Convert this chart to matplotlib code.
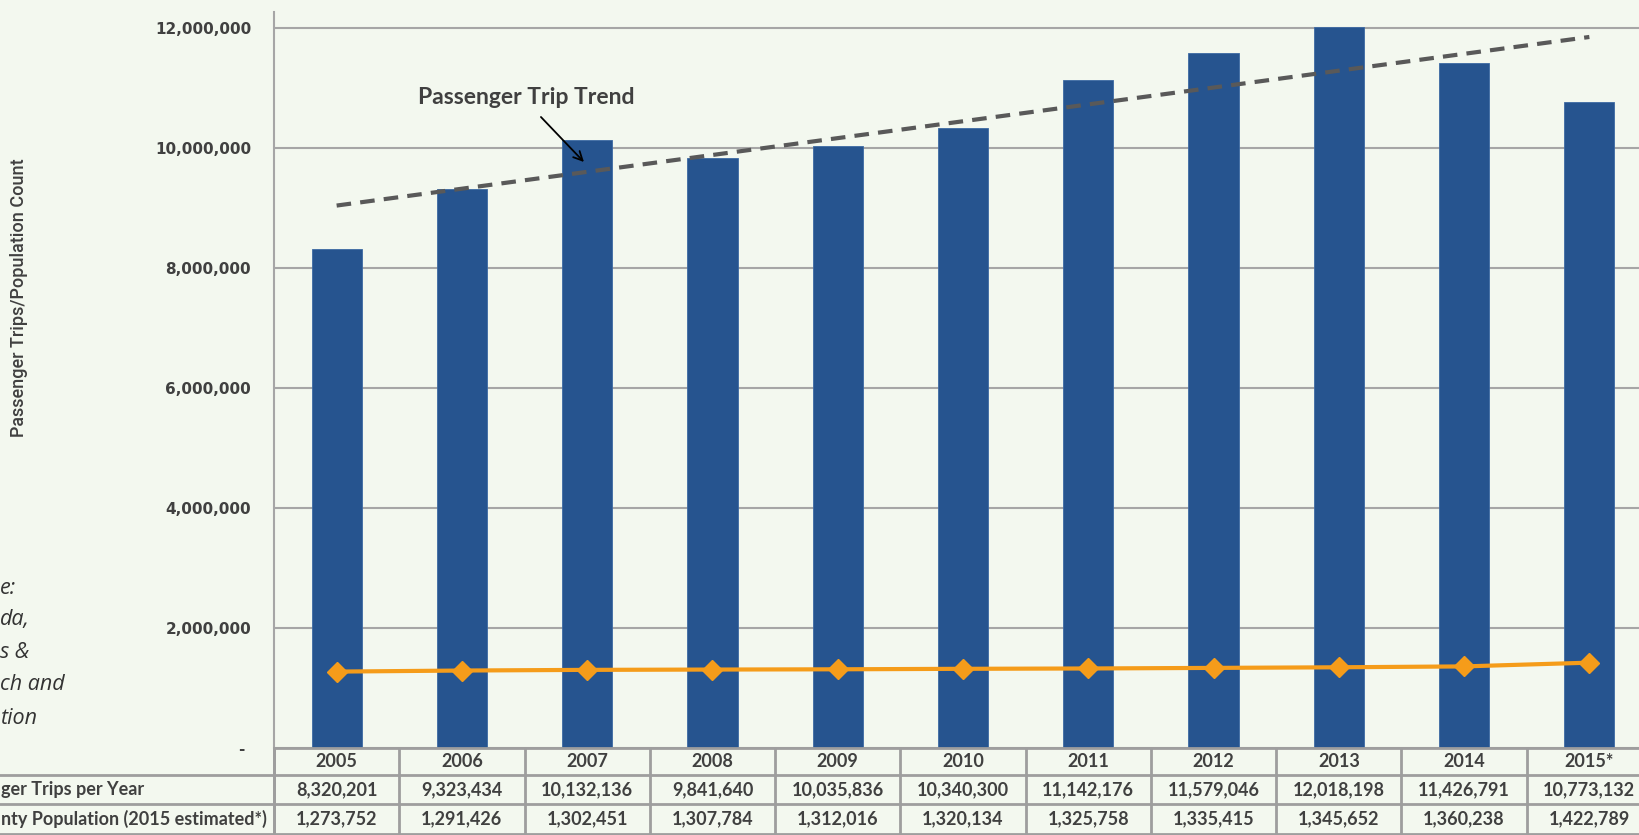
import numpy as np
import matplotlib.pyplot as plt
from matplotlib.lines import Line2D
from matplotlib.transforms import blended_transform_factory

years = ['2005', '2006', '2007', '2008', '2009', '2010', '2011', '2012', '2013', '2014', '2015*']
trips = [8320201, 9323434, 10132136, 9841640, 10035836, 10340300,
         11142176, 11579046, 12018198, 11426791, 10773132]
population = [1273752, 1291426, 1302451, 1307784, 1312016, 1320134,
              1325758, 1335415, 1345652, 1360238, 1422789]
row_labels = ['ger Trips per Year', 'nty Population (2015 estimated*)']
note_lines = ['e:', 'da,', 's &', 'ch and', 'tion']

W, H = 1640, 835
bg = '#f3f8ef'
txt = '#404040'
grid_c = '#a6a6a6'
bar_c = '#26548f'
line_c = '#f59c1a'

fig = plt.figure(figsize=(W / 100, H / 100), dpi=100, facecolor=bg)

def fx(px):
    return px / W

def fy(py):
    return 1 - py / H

# axes: left edge 274px, right edge beyond figure, top 12px, bottom 748px
ax = fig.add_axes([fx(274), fy(748), fx(1652 - 274), (748 - 12) / H])
ax.set_facecolor(bg)

def dx(px):
    return (px - 274) / 125.3 - 0.5

def dy(py):
    return (748 - py) / 736 * 12.27e6

x = np.arange(len(years))
ax.bar(x, trips, width=0.4, color=bar_c, edgecolor='#3d6aa3', linewidth=0.6, zorder=3)
ax.plot(x, population, color=line_c, lw=3, marker='D', markersize=10, zorder=4)

# linear trend of passenger trips
k, b = np.polyfit(x, trips, 1)
ax.plot(x, k * x + b, color='#595959', lw=3, ls=(0, (3.5, 2.2)), zorder=5)

ax.set_xlim(-0.5, len(years) - 0.5)
ax.set_ylim(0, 12.27e6)
ticks = np.arange(0, 12.1e6, 2e6)
ax.set_yticks(ticks)
ax.set_yticklabels([f'{int(v):,}' if v > 0 else '- ' for v in ticks],
                   fontsize=11, fontweight='bold', color=txt, family='DejaVu Sans')
ax.tick_params(axis='y', length=0, pad=16.5)
ax.set_xticks([])
ax.grid(axis='y', color=grid_c, lw=1.5, zorder=0)
for s in ['top', 'right', 'bottom']:
    ax.spines[s].set_visible(False)
ax.spines['left'].set_color(grid_c)
ax.spines['left'].set_linewidth(1.5)

ax.text(dx(526), dy(97), 'Passenger Trip Trend', ha='center', va='center',
        fontsize=16.5, fontweight='bold', color=txt, family='Lato')
ax.annotate('', xy=(dx(584), dy(162)), xytext=(dx(541), dy(117)),
            arrowprops=dict(arrowstyle='->', color='black', lw=1.3, shrinkA=0, shrinkB=0,
                            mutation_scale=16))

fig.text(fx(19), fy(298), 'Passenger Trips/Population Count', rotation=90,
         ha='center', va='center', fontsize=13, fontweight='medium', color=txt,
         family=['Roboto', 'DejaVu Sans'])

# table below the axes
tr = blended_transform_factory(ax.transData, fig.transFigure)
row_y = [748, 775, 804, 834]
lc = '#9e9e9e'
for yy in row_y[1:]:
    fig.add_artist(Line2D([0, 1], [fy(yy), fy(yy)], color=lc, lw=2))
fig.add_artist(Line2D([fx(274), 1], [fy(748), fy(748)], color=lc, lw=2))
for i in range(len(years) + 1):
    fig.add_artist(Line2D([i - 0.5, i - 0.5], [fy(748), fy(834)], color=lc, lw=2,
                          transform=tr))
fig.add_artist(Line2D([fx(274), fx(274)], [fy(748), fy(834)], color=lc, lw=2))

rows = [years, [f'{v:,}' for v in trips], [f'{v:,}' for v in population]]
for r, vals in enumerate(rows):
    yc = fy((row_y[r] + row_y[r + 1]) / 2)
    for i, s in enumerate(vals):
        fig.text(i, yc, s, transform=tr, ha='center', va='center',
                 fontsize=13, fontweight='bold', color=txt, family='Lato')

fig.text(fx(1), fy(790), row_labels[0], ha='left', va='center',
         fontsize=13, fontweight='bold', color=txt, family='Lato')
fig.text(fx(1), fy(819), row_labels[1], ha='left', va='center',
         fontsize=13, fontweight='bold', color=txt, family='Lato')

note_y = [588, 620, 653, 685, 718]
for s, yy in zip(note_lines, note_y):
    fig.text(fx(0), fy(yy), s, ha='left', va='center', fontsize=15.5,
             style='italic', color='#333333', family='Open Sans')

fig.savefig('out.png', dpi=100, facecolor=bg)
